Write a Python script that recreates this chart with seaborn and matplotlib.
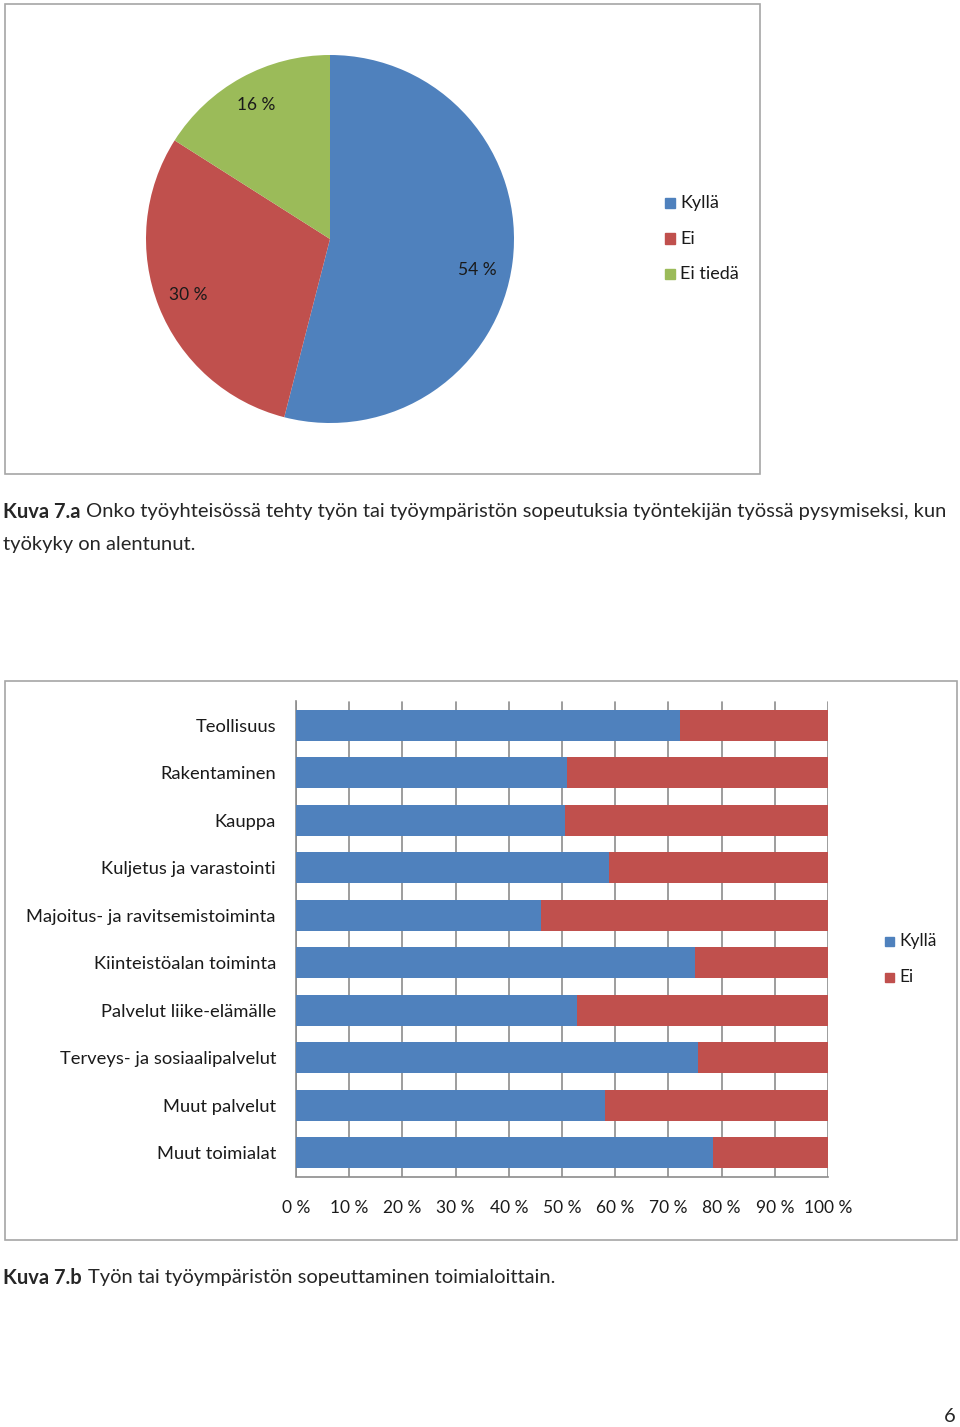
import numpy as np
import pandas as pd
import matplotlib
matplotlib.use("Agg")
import matplotlib.pyplot as plt
import seaborn as sns
from matplotlib.patches import Rectangle

# pie chart data
pie_labels = ["Kyllä", "Ei", "Ei tiedä"]
pie_values = [54, 30, 16]

# stacked bar data (share of "Kyllä", rest is "Ei")
sectors = ["Teollisuus", "Rakentaminen", "Kauppa", "Kuljetus ja varastointi",
           "Majoitus- ja ravitsemistoiminta", "Kiinteistöalan toiminta",
           "Palvelut liike-elämälle", "Terveys- ja sosiaalipalvelut",
           "Muut palvelut", "Muut toimialat"]
kylla_share = [72.2, 51.0, 50.5, 58.8, 46.0, 75.0, 52.9, 75.6, 58.1, 78.4]
xtick_vals = [0, 10, 20, 30, 40, 50, 60, 70, 80, 90, 100]
xtick_labels = [f"{v} %" for v in xtick_vals]

BLUE = "#4F81BD"
RED = "#C0504D"
GREEN = "#9BBB59"
GRID = "#8C8C8C"

sns.set_theme(style="white")
plt.rcParams["font.family"] = ["Lato", "DejaVu Sans"]

W, H = 960, 1427
fig = plt.figure(figsize=(W / 100, H / 100), dpi=100)


def px_box(x0, y0, x1, y1):
    # pixel box (top-left origin) -> figure fraction [l, b, w, h]
    return [x0 / W, 1 - y1 / H, (x1 - x0) / W, (y1 - y0) / H]


# frames around the two charts
for (x0, y0, x1, y1) in [(5, 4, 760, 474), (5, 681, 957, 1240)]:
    fig.patches.append(Rectangle((x0 / W, 1 - y1 / H), (x1 - x0) / W, (y1 - y0) / H,
                                 transform=fig.transFigure, fill=False,
                                 edgecolor="#A6A6A6", linewidth=1.2))

# ---- pie chart ----
cx, cy, r = 330, 239, 184
ax_pie = fig.add_axes(px_box(cx - r, cy - r, cx + r, cy + r))
wedges, _, autotexts = ax_pie.pie(
    pie_values, colors=[BLUE, RED, GREEN], startangle=90, counterclock=False,
    autopct=lambda p: f"{p:.0f} %", pctdistance=0.83,
    wedgeprops=dict(linewidth=0), textprops=dict(fontsize=12.5, color="#1a1a1a"))
# Excel puts the big slice's label a bit lower than the mid-angle
ang = np.deg2rad(-12)
autotexts[0].set_position((0.82 * np.cos(ang), 0.82 * np.sin(ang)))
ax_pie.set_xlim(-1, 1)
ax_pie.set_ylim(-1, 1)
ax_pie.set_aspect("equal")

for i, lab in enumerate(pie_labels):
    y = 203 + i * 35.5
    fig.patches.append(Rectangle((665 / W, 1 - (y + 5) / H), 10 / W, 10 / H,
                                 transform=fig.transFigure, color=[BLUE, RED, GREEN][i]))
    fig.text(680 / W, 1 - y / H, lab, fontsize=13, va="center", ha="left", color="#1a1a1a")

# ---- captions ----
renderer = fig.canvas.get_renderer()


def caption(y, bold, rest):
    t = fig.text(3 / W, 1 - y / H, bold, fontsize=14.5, fontweight="bold", va="center", ha="left")
    bb = t.get_window_extent(renderer)
    fig.text((bb.x1 + 6) / W, 1 - y / H, rest, fontsize=14.5, va="center", ha="left")


caption(512, "Kuva 7.a",
        "Onko työyhteisössä tehty työn tai työympäristön sopeutuksia työntekijän työssä pysymiseksi, kun")
fig.text(3 / W, 1 - 544 / H, "työkyky on alentunut.", fontsize=14.5, va="center", ha="left")
caption(1278, "Kuva 7.b", "Työn tai työympäristön sopeuttaminen toimialoittain.")
fig.text(944 / W, 1 - 1417 / H, "6", fontsize=14.5, va="center", ha="left")

# ---- stacked bar chart ----
df = pd.DataFrame({"sector": sectors, "Kyllä": kylla_share})
df["total"] = 100

ax = fig.add_axes(px_box(296, 701.5, 828, 1176.5))
sns.barplot(data=df, y="sector", x="total", orient="h", color=RED, saturation=1,
            width=0.66, linewidth=0, ax=ax, zorder=3)
sns.barplot(data=df, y="sector", x="Kyllä", orient="h", color=BLUE, saturation=1,
            width=0.66, linewidth=0, ax=ax, zorder=4)

ax.set_xlim(0, 100)
ax.set_ylim(len(sectors) - 0.5, -0.5)
ax.set_xticks(xtick_vals)
ax.set_xticklabels(xtick_labels, fontsize=12.5, color="#1a1a1a")
ax.set_yticks(np.arange(len(sectors)))
ax.set_yticklabels(sectors, fontsize=13.2, color="#1a1a1a")
ax.tick_params(axis="x", length=6, width=1.2, color=GRID, pad=11, direction="out")
ax.set_yticks(np.arange(len(sectors) + 1) - 0.5, minor=True)
ax.tick_params(axis="y", which="minor", length=6, width=1.2, color=GRID, direction="out")
ax.tick_params(axis="y", which="major", length=0, pad=14.4)
ax.set_xlabel("")
ax.set_ylabel("")
ax.grid(axis="x", color=GRID, linewidth=1.2, zorder=0)
ax.set_axisbelow(True)
for side in ["top", "right"]:
    ax.spines[side].set_visible(False)
for side in ["left", "bottom"]:
    ax.spines[side].set_color(GRID)
    ax.spines[side].set_linewidth(1.2)

for i, (lab, col) in enumerate([("Kyllä", BLUE), ("Ei", RED)]):
    y = 941 + i * 36
    fig.patches.append(Rectangle((885 / W, 1 - (y + 4.5) / H), 9 / W, 9 / H,
                                 transform=fig.transFigure, color=col))
    fig.text(899 / W, 1 - y / H, lab, fontsize=12.5, va="center", ha="left", color="#1a1a1a")

fig.savefig("out.png", dpi=100, facecolor="white")
